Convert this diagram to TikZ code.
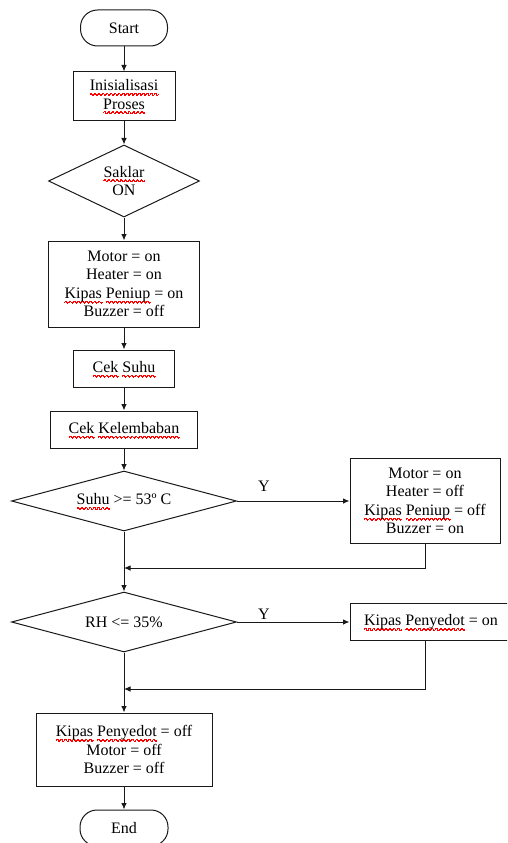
\documentclass[tikz,border=0pt]{standalone}
\usepackage{fontspec}
\setmainfont{Liberation Serif}
\usetikzlibrary{shapes.geometric,arrows.meta}

% red wavy spell-check underline built from a repeated wave unit
\newsavebox\waveunit
\newsavebox\spellword
\newcommand\spell[1]{\leavevmode\sbox\spellword{#1}%
  \rlap{\raisebox{-3.4pt}{\hbox to\wd\spellword{\xleaders\copy\waveunit\hfill}}}\usebox\spellword}

\tikzset{
  flow/.style={line width=1pt, draw=black!90},
  proc/.style={flow, rectangle, inner sep=0pt, align=center, font=\fontsize{16}{18.4}\selectfont},
  term/.style={proc, rounded corners=17pt},
  cond/.style={flow, diamond, aspect=3, inner sep=0pt, align=center, font=\fontsize{16}{18.4}\selectfont},
  arr/.style={flow, -{Latex[length=6.5pt,width=5.5pt]}},
  line/.style={flow},
  lbl/.style={font=\fontsize{16}{18.4}\selectfont, inner sep=0pt}
}

\begin{document}
\sbox\waveunit{\color{red}\setlength\unitlength{1pt}\linethickness{0.5pt}%
  \begin{picture}(4,0)\qbezier(0,0)(1,2)(2,0)\qbezier(2,0)(3,-2)(4,0)\end{picture}}%
\begin{tikzpicture}[x=1pt,y=-1pt]
\useasboundingbox (0,0) rectangle (507,843);
\clip (0,0) rectangle (507,843);

% main column, all centred on x = 124
\node[term, minimum width=87pt, minimum height=36pt] (start) at (124,28) {Start};
\node[proc, minimum width=102pt, minimum height=48pt] (init) at (124,96) {\spell{Inisialisasi}\\\spell{Proses}};
\node[cond, minimum width=151pt, minimum height=72pt] (saklar) at (124,181) {\spell{Saklar}\\ON};
\node[proc, minimum width=151pt, minimum height=86pt] (on) at (124,284) {Motor = on\\Heater = on\\\spell{Kipas} \spell{Peniup} = on\\Buzzer = off};
\node[proc, minimum width=101pt, minimum height=37pt] (suhu) at (124,368.5) {\spell{Cek} \spell{Suhu}};
\node[proc, minimum width=147pt, minimum height=37pt] (lembab) at (124,429.5) {\spell{Cek} \spell{Kelembaban}};
\node[cond, minimum width=225pt, minimum height=60pt] (panas) at (124,501) {\spell{Suhu} >= 53º C};
\node[cond, minimum width=225pt, minimum height=60pt] (rh) at (124,622) {RH <= 35\%};
\node[proc, minimum width=176pt, minimum height=73pt] (off) at (124,749.5) {\spell{Kipas} \spell{Penyedot} = off\\Motor = off\\Buzzer = off};
\node[term, minimum width=88pt, minimum height=36pt] (end) at (124,828) {End};

% right branches
\node[proc, minimum width=150pt, minimum height=85pt] (alarm) at (425,501) {Motor = on\\Heater = off\\\spell{Kipas} \spell{Peniup} = off\\Buzzer = on};
\node[proc, minimum width=162pt, minimum height=37pt] (fan) at (431,622) {\spell{Kipas} \spell{Penyedot} = on};

% merge points on the main column
\coordinate (m1) at (124,568);
\coordinate (m2) at (124,689);
\coordinate (fanout) at (425,640.5);

% connectors
\draw[arr] (start) -- (init);
\draw[arr] (init) -- (saklar);
\draw[arr] (saklar) -- (on);
\draw[arr] (on) -- (suhu);
\draw[arr] (suhu) -- (lembab);
\draw[arr] (lembab.south) -- (panas.north);
\draw[arr] (panas.east) -- node[lbl, pos=0.24, above=9pt] (y1) {Y} (alarm.west);
\draw[line] (panas.south) -- (m1);
\draw[arr] (m1) -- (rh.north);
\draw[arr] (alarm.south) |- (m1);
\draw[arr] (rh.east) -- node[lbl, pos=0.24, above=2pt] (y2) {Y} (fan.west);
\draw[line] (rh.south) -- (m2);
\draw[arr] (m2) -- (off.north);
\draw[arr] (fanout) |- (m2);
\draw[arr] (off) -- (end);
\end{tikzpicture}
\end{document}
